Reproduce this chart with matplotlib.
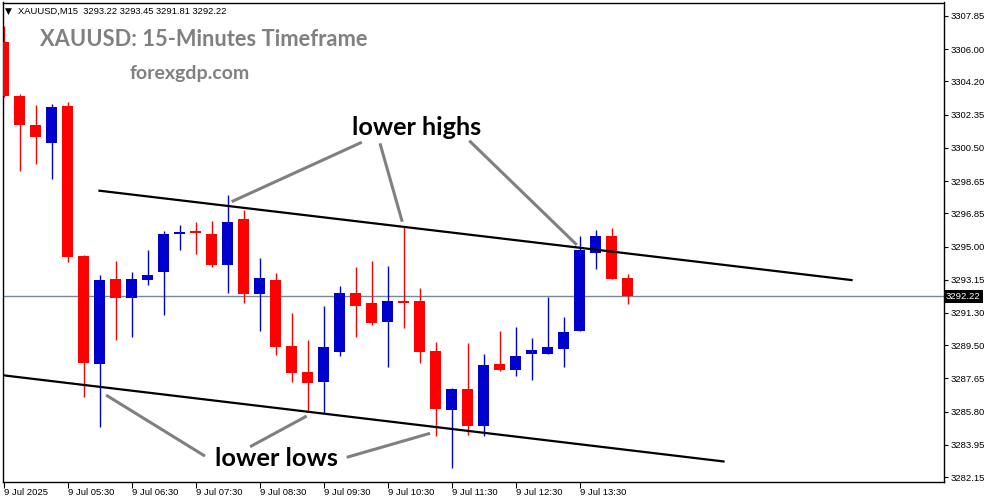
import matplotlib
matplotlib.use("Agg")
import matplotlib.pyplot as plt
import numpy as np

# 15-minute candles, XAUUSD, 9 Jul 2025 from 04:30
opens = [3306.40, 3303.37, 3301.77, 3300.79, 3302.83, 3294.47, 3288.45, 3293.19, 3292.15, 3293.13,
         3293.60, 3295.72, 3295.87, 3295.70, 3293.97, 3296.53, 3292.35, 3293.13, 3289.46, 3288.01,
         3287.45, 3289.14, 3292.39, 3291.84, 3290.81, 3291.96, 3291.96, 3289.18, 3285.91, 3287.06,
         3285.01, 3288.45, 3288.14, 3289.03, 3289.03, 3289.31, 3290.31, 3294.66, 3295.59, 3293.22]
highs = [3307.29, 3303.50, 3302.89, 3302.95, 3303.06, 3294.50, 3293.41, 3294.19, 3293.58, 3294.81,
         3295.87, 3296.20, 3296.37, 3296.42, 3297.87, 3297.04, 3294.36, 3293.52, 3291.31, 3289.79,
         3291.69, 3292.80, 3293.86, 3294.19, 3293.92, 3296.11, 3292.67, 3289.66, 3287.10, 3289.61,
         3289.01, 3290.29, 3290.52, 3289.90, 3292.20, 3291.07, 3295.59, 3295.92, 3296.03, 3293.45]
lows = [3303.35, 3299.23, 3299.60, 3298.76, 3294.15, 3286.63, 3284.96, 3289.79, 3289.97, 3292.86,
        3291.18, 3294.81, 3294.58, 3293.88, 3292.43, 3291.87, 3290.31, 3288.95, 3287.45, 3285.79,
        3285.72, 3288.92, 3289.97, 3290.63, 3288.30, 3290.48, 3288.52, 3284.46, 3282.67, 3284.50,
        3284.46, 3288.08, 3287.80, 3287.56, 3289.00, 3288.30, 3290.31, 3293.76, 3293.21, 3291.81]
closes = [3303.41, 3301.79, 3301.12, 3302.78, 3294.43, 3288.52, 3293.13, 3292.15, 3293.19, 3293.41,
          3295.70, 3295.81, 3295.77, 3293.97, 3296.37, 3292.35, 3293.25, 3289.42, 3287.97, 3287.39,
          3289.40, 3292.39, 3291.70, 3290.75, 3291.96, 3291.87, 3289.14, 3285.96, 3287.06, 3285.01,
          3288.40, 3288.14, 3288.90, 3289.23, 3289.40, 3290.24, 3294.82, 3295.59, 3293.21, 3292.22]

time_idx = [0, 4, 8, 12, 16, 20, 24, 28, 32, 36]
time_labels = ["9 Jul 2025", "9 Jul 05:30", "9 Jul 06:30", "9 Jul 07:30", "9 Jul 08:30",
               "9 Jul 09:30", "9 Jul 10:30", "9 Jul 11:30", "9 Jul 12:30", "9 Jul 13:30"]
price_ticks = [3307.85, 3306.00, 3304.20, 3302.35, 3300.50, 3298.65, 3296.85, 3295.00,
               3293.15, 3291.30, 3289.50, 3287.65, 3285.80, 3283.95, 3282.15]
last_price = 3292.22

# channel lines (candle index, price)
upper_x, upper_y = [6, 53], [3298.11, 3293.13]
lower_x, lower_y = [0, 45], [3287.82, 3283.02]

# pointer lines from the labels to the swing points
high_pointers = [[(22.39, 3300.81), (14.26, 3297.50)],
                 [(23.53, 3300.75), (24.92, 3296.38)],
                 [(29.11, 3300.90), (35.83, 3295.09)]]
low_pointers = [[(12.59, 3283.32), (6.41, 3286.72)],
                [(15.41, 3283.84), (18.95, 3285.55)],
                [(21.45, 3283.25), (26.66, 3284.59)]]

RED = "#ff0000"
BLUE = "#0000cc"

fig = plt.figure(figsize=(9.91, 5.01), dpi=100)
ax = fig.add_axes([2.5 / 991, 19 / 501, 941.5 / 991, 479.5 / 501])

for i in range(len(opens)):
    o, h, l, c = opens[i], highs[i], lows[i], closes[i]
    col = BLUE if c >= o else RED
    ax.vlines(i, l, h, color=col, linewidth=1.0, zorder=2)
    body = max(abs(c - o), 0.09)
    ax.bar(i, body, bottom=min(o, c), width=0.69, color=col, linewidth=0, zorder=3)

ax.axhline(last_price, color="#778899", linewidth=1.0, zorder=1)

ax.plot(upper_x, upper_y, color="black", linewidth=1.6, zorder=4)
ax.plot(lower_x, lower_y, color="black", linewidth=1.6, zorder=4)
for (x0, y0), (x1, y1) in high_pointers + low_pointers:
    ax.plot([x0, x1], [y0, y1], color="#808080", linewidth=2.2, zorder=5, solid_capstyle="butt")

lbl_font = ["Lato", "DejaVu Sans"]
t_hi = ax.text(25.83, 3301.65, "lower highs", ha="center", va="center", fontsize=18,
               fontweight="bold", family=lbl_font, color="black", zorder=6)
t_lo = ax.text(17.08, 3283.20, "lower lows", ha="center", va="center", fontsize=18,
               fontweight="bold", family=lbl_font, color="black", zorder=6)

ax.set_xlim(-0.0625, 58.78)
ax.set_ylim(3281.875, 3308.60)

ax.yaxis.tick_right()
ax.set_yticks(price_ticks)
ax.set_yticklabels([f"{p:.2f}" for p in price_ticks])
ax.set_xticks(time_idx)
ax.set_xticklabels(time_labels)
for lab in ax.get_xticklabels():
    lab.set_horizontalalignment("left")
ax.tick_params(axis="y", direction="out", length=3, width=0.8, pad=2,
               labelsize=6.8, labelfontfamily="Liberation Sans")
ax.tick_params(axis="x", direction="out", length=4, width=0.8, pad=0.5,
               labelsize=6.8, labelfontfamily="Liberation Sans")
for s in ax.spines.values():
    s.set_linewidth(1.0)
    s.set_color("black")

ax.text(1.002, last_price, "3292.22", transform=ax.get_yaxis_transform(), ha="left", va="center",
        fontsize=6.8, family="Liberation Sans", color="white",
        bbox=dict(boxstyle="square,pad=0.2", fc="black", ec="none"), zorder=10)

# header and watermark titles
fig.text(5 / 991, 1 - 11 / 501, "\u25bc", fontsize=6.5, va="center", ha="left", color="black")
t_head = fig.text(18 / 991, 1 - 11 / 501, "XAUUSD,M15  3293.22 3293.45 3291.81 3292.22",
                  fontsize=7, family="Liberation Sans", va="center", ha="left", color="black")
t_title = fig.text(40 / 991, 1 - 40 / 501, "XAUUSD: 15-Minutes Timeframe", fontsize=15,
                   fontweight="bold", family=lbl_font, va="center", ha="left", color="#808080")
t_site = fig.text(130 / 991, 1 - 73 / 501, "forexgdp.com", fontsize=13,
                  fontweight="bold", family=lbl_font, va="center", ha="left", color="#808080")

# scale the free texts to the widths they take in the reference
r = fig.canvas.get_renderer()
for t, w in [(t_hi, 130), (t_lo, 123), (t_head, 207), (t_title, 327), (t_site, 120)]:
    bb = t.get_window_extent(renderer=r)
    t.set_fontsize(t.get_fontsize() * w / bb.width)

fig.savefig("out.png", dpi=100, facecolor="white")
